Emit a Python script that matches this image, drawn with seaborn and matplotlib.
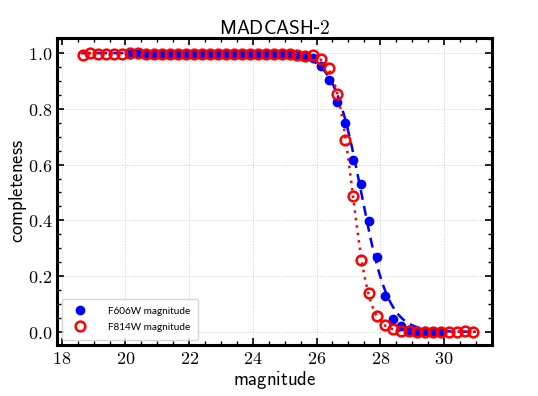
import numpy as np
import pandas as pd
import matplotlib
matplotlib.use('Agg')
import matplotlib.pyplot as plt
from matplotlib.ticker import MultipleLocator, FuncFormatter
import seaborn as sns

# ── DATA ──────────────────────────────────────────────────────────────────────
f814_mag = [18.65, 18.90, 19.15, 19.40, 19.65, 19.90, 20.15, 20.40, 20.65, 20.90,
            21.15, 21.40, 21.65, 21.90, 22.15, 22.40, 22.65, 22.90, 23.15, 23.40,
            23.65, 23.90, 24.15, 24.40, 24.65, 24.90, 25.15, 25.40, 25.65, 25.90,
            26.15, 26.40, 26.65, 26.90, 27.15, 27.40, 27.65, 27.90, 28.15, 28.40,
            28.65, 28.90, 29.15, 29.40, 29.65, 29.90, 30.15, 30.40, 30.65, 30.90]
f814_comp = [0.993, 1.000, 0.997, 0.996, 0.998, 0.997, 0.999, 1.000, 0.996, 0.998,
             0.997, 0.996, 0.995, 0.997, 0.998, 0.996, 0.997, 0.998, 0.997, 0.998,
             0.996, 0.997, 0.998, 0.997, 0.996, 0.997, 0.996, 0.994, 0.991, 0.993,
             0.980, 0.947, 0.853, 0.687, 0.489, 0.258, 0.139, 0.057, 0.023, 0.011,
             0.004, 0.002, 0.001, 0.001, 0.000, 0.000, 0.000, 0.001, 0.002, 0.000]

f606_mag = [20.15, 20.40, 20.65, 20.90, 21.15, 21.40, 21.65, 21.90, 22.15, 22.40,
            22.65, 22.90, 23.15, 23.40, 23.65, 23.90, 24.15, 24.40, 24.65, 24.90,
            25.15, 25.40, 25.65, 25.90, 26.15, 26.40, 26.65, 26.90, 27.15, 27.40,
            27.65, 27.90, 28.15, 28.40, 28.65, 28.90, 29.15, 29.40, 29.65, 29.90]
f606_comp = [0.998, 0.999, 0.997, 0.998, 0.998, 0.997, 0.996, 0.998, 0.997, 0.998,
             0.997, 0.998, 0.998, 0.997, 0.998, 0.996, 0.998, 0.997, 0.997, 0.996,
             0.995, 0.993, 0.990, 0.982, 0.953, 0.903, 0.825, 0.748, 0.616, 0.529,
             0.398, 0.268, 0.129, 0.045, 0.021, 0.008, 0.003, 0.002, 0.001, 0.001]

df606 = pd.DataFrame({'mag': f606_mag, 'comp': f606_comp})
df814 = pd.DataFrame({'mag': f814_mag, 'comp': f814_comp})


# logistic completeness function, least-squares fit to the points (grid search)
def logistic(m, m50, w):
    return 1.0 / (1.0 + np.exp((m - m50) / w))


def fit_curve(df, grid):
    best = None
    for m50 in np.arange(26.5, 28.0, 0.005):
        for w in np.arange(0.05, 1.0, 0.005):
            err = np.sum((logistic(df['mag'].values, m50, w) - df['comp'].values) ** 2)
            if best is None or err < best[0]:
                best = (err, m50, w)
    return pd.DataFrame({'mag': grid, 'comp': logistic(grid, best[1], best[2])})


grid = np.linspace(18.6, 31.0, 400)
fit606 = fit_curve(df606, grid)
fit814 = fit_curve(df814, grid)

# ── STYLE ─────────────────────────────────────────────────────────────────────
sns.set_style('ticks')
plt.rcParams.update({
    'mathtext.fontset': 'cm',
    'axes.edgecolor': 'black', 'axes.labelcolor': 'black', 'text.color': 'black',
    'xtick.color': 'black', 'ytick.color': 'black',
    'xtick.direction': 'in', 'ytick.direction': 'in',
    'xtick.top': True, 'ytick.right': True,
    'xtick.minor.visible': True, 'ytick.minor.visible': True,
    'xtick.major.size': 5, 'ytick.major.size': 5,
    'xtick.minor.size': 3, 'ytick.minor.size': 3,
    'xtick.major.width': 1.2, 'ytick.major.width': 1.2,
    'xtick.minor.width': 1.0, 'ytick.minor.width': 1.0,
    'axes.linewidth': 2.2,
})

fig = plt.figure(figsize=(5.38, 3.96), dpi=100)
ax = fig.add_axes([0.106, 0.129, 0.808, 0.775])

sns.lineplot(data=fit606, x='mag', y='comp', ax=ax, color='blue',
             linestyle=(0, (4, 2.5)), linewidth=1.8, legend=False)
sns.lineplot(data=fit814, x='mag', y='comp', ax=ax, color='red',
             linestyle=(0, (1, 2)), linewidth=1.8, legend=False)
ax.plot(df606['mag'], df606['comp'], 'o', color='blue', markersize=6,
        label='F606W magnitude', zorder=3)
ax.plot(df814['mag'], df814['comp'], 'o', color='red', mfc='none', mew=1.8,
        markersize=7, label='F814W magnitude', zorder=4)

ax.set_xlim(17.85, 31.5)
ax.set_ylim(-0.047, 1.054)
ax.xaxis.set_major_locator(MultipleLocator(2))
ax.xaxis.set_minor_locator(MultipleLocator(0.5))
ax.yaxis.set_major_locator(MultipleLocator(0.2))
ax.yaxis.set_minor_locator(MultipleLocator(0.05))
ax.xaxis.set_major_formatter(FuncFormatter(lambda v, p: r'$\mathbf{%d}$' % round(v)))
ax.yaxis.set_major_formatter(FuncFormatter(lambda v, p: r'$\mathbf{%.1f}$' % v))
ax.tick_params(labelsize=13)
ax.grid(True, which='major', color='#cccccc', linestyle=':', linewidth=0.7)

ax.set_xlabel(r'$\mathsf{magnitude}$', fontsize=13.5, labelpad=1)
ax.set_ylabel(r'$\mathsf{completeness}$', fontsize=13.5, labelpad=-1)
ax.set_title(r'$\mathsf{MADCASH}$-$\mathsf{2}$', fontsize=14, pad=3)

leg = ax.legend(loc='lower left', fontsize=7.2, frameon=True, borderpad=0.8,
                handletextpad=1.8, labelspacing=0.7)
for t in leg.get_texts():
    t.set_family('Lato')

fig.savefig('out.png', dpi=100)
